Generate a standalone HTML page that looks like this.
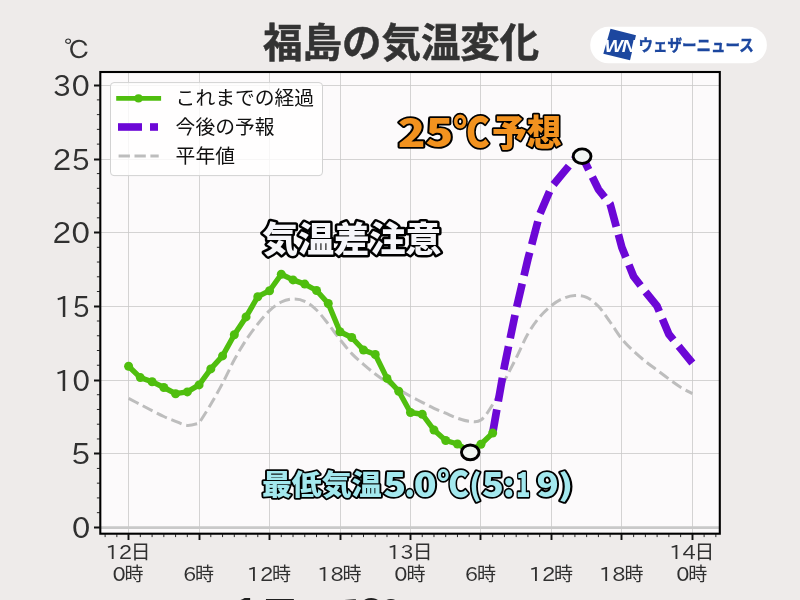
<!DOCTYPE html>
<html lang="ja"><head><meta charset="utf-8"><title>福島の気温変化</title>
<style>html,body{margin:0;padding:0;background:#eeebea;}body{width:800px;height:600px;overflow:hidden;}svg{display:block;will-change:transform;}</style>
</head><body>
<svg width="800" height="600" viewBox="0 0 800 600">
<rect x="0" y="0" width="800" height="600" fill="#eeebea"/>
<rect x="100.3" y="72.0" width="619.50" height="461.70" fill="#fcfafb"/>
<path d="M128.50,72.0 V533.7 M199.50,72.0 V533.7 M269.50,72.0 V533.7 M340.50,72.0 V533.7 M410.50,72.0 V533.7 M480.50,72.0 V533.7 M551.50,72.0 V533.7 M621.50,72.0 V533.7 M692.50,72.0 V533.7 M100.3,527.50 H719.8 M100.3,453.50 H719.8 M100.3,380.50 H719.8 M100.3,306.50 H719.8 M100.3,232.50 H719.8 M100.3,159.50 H719.8 M100.3,85.50 H719.8" stroke="#c9c9c9" stroke-width="0.8" fill="none"/>
<path d="M100.3,527.60 H719.8" stroke="#c9c9c9" stroke-width="2.6" fill="none"/>
<clipPath id="cp"><rect x="100.3" y="72.0" width="619.50" height="461.70"/></clipPath>
<g clip-path="url(#cp)">
<path d="M128.60,398.40 C130.56,399.42 136.43,402.45 140.34,404.50 C144.26,406.55 148.18,408.70 152.09,410.70 C156.00,412.70 159.92,414.73 163.83,416.50 C167.75,418.27 171.66,419.82 175.58,421.30 C179.49,422.78 183.41,425.08 187.32,425.40 C191.24,425.72 197.11,423.57 199.07,423.20 C201.03,420.05 206.90,410.95 210.81,404.30 C214.73,397.65 218.65,390.72 222.56,383.30 C226.47,375.88 230.39,367.02 234.31,359.80 C238.22,352.58 242.13,345.97 246.05,340.00 C249.96,334.03 253.88,328.90 257.79,324.00 C261.71,319.10 265.62,314.27 269.54,310.60 C273.45,306.93 277.37,303.93 281.28,302.00 C285.20,300.07 289.11,299.12 293.03,299.00 C296.94,298.88 300.86,299.47 304.77,301.30 C308.69,303.13 312.60,306.22 316.52,310.00 C320.44,313.78 324.35,319.08 328.26,324.00 C332.18,328.92 336.09,334.57 340.01,339.50 C343.93,344.43 347.84,349.47 351.75,353.60 C355.67,357.73 359.58,360.90 363.50,364.30 C367.42,367.70 371.33,371.00 375.25,374.00 C379.16,377.00 383.07,379.72 386.99,382.30 C390.91,384.88 394.82,387.17 398.74,389.50 C402.65,391.83 406.56,394.17 410.48,396.30 C414.40,398.43 418.31,400.30 422.23,402.30 C426.14,404.30 430.06,406.48 433.97,408.30 C437.88,410.12 441.80,411.55 445.71,413.20 C449.63,414.85 453.54,416.87 457.46,418.20 C461.37,419.53 465.29,420.90 469.20,421.20 C473.12,421.50 477.03,422.78 480.95,420.00 C484.86,417.22 488.78,411.00 492.69,404.50 C496.61,398.00 500.52,388.75 504.44,381.00 C508.35,373.25 512.27,365.87 516.18,358.00 C520.10,350.13 524.01,340.63 527.93,333.80 C531.84,326.97 535.76,321.70 539.67,317.00 C543.59,312.30 547.50,308.70 551.42,305.60 C555.33,302.50 559.25,300.08 563.16,298.40 C567.08,296.72 571.00,295.68 574.91,295.50 C578.82,295.32 582.74,295.50 586.65,297.30 C590.57,299.10 594.49,302.18 598.40,306.30 C602.31,310.42 606.23,316.55 610.14,322.00 C614.06,327.45 617.98,334.13 621.89,339.00 C625.80,343.87 629.72,347.47 633.63,351.20 C637.55,354.93 641.47,358.23 645.38,361.40 C649.29,364.57 653.21,367.27 657.12,370.20 C661.04,373.13 664.96,376.17 668.87,379.00 C672.78,381.83 676.70,384.77 680.62,387.20 C684.53,389.63 690.40,392.53 692.36,393.60" stroke="#bdbdbd" stroke-width="3" stroke-dasharray="11.1 4.8" fill="none" stroke-linejoin="round"/>
<path d="M492.69,433.00 L504.44,366.30 L516.18,309.30 L527.93,259.00 L539.67,214.50 L551.42,187.10 L563.16,172.90 L574.91,158.80 L582.10,156.25 L598.40,189.30 L610.14,204.00 L621.89,247.50 L633.63,276.50 L645.38,291.70 L657.12,306.20 L668.87,334.30 L680.62,348.60 L692.36,363.00" stroke="#6c07d6" stroke-width="7.7" stroke-dasharray="23.9 8.2" fill="none" stroke-linejoin="round"/>
<path d="M128.60,366.30 L140.34,377.60 L152.09,381.70 L163.83,387.50 L175.58,393.70 L187.32,391.90 L199.07,384.90 L210.81,368.90 L222.56,355.90 L234.31,334.80 L246.05,316.90 L257.79,296.70 L269.54,290.70 L281.28,274.30 L293.03,279.90 L304.77,284.10 L316.52,290.50 L328.26,303.50 L340.01,331.75 L351.75,337.50 L363.50,350.00 L375.25,354.50 L386.99,378.40 L398.74,391.25 L410.48,412.50 L422.23,414.25 L433.97,430.00 L445.71,440.50 L457.46,444.00 L469.20,451.00 L480.95,444.30 L492.69,433.00" stroke="#4fbe0e" stroke-width="5.4" fill="none" stroke-linejoin="round" stroke-linecap="round"/>
<circle cx="128.60" cy="366.30" r="4.5" fill="#4fbe0e"/>
<circle cx="140.34" cy="377.60" r="4.5" fill="#4fbe0e"/>
<circle cx="152.09" cy="381.70" r="4.5" fill="#4fbe0e"/>
<circle cx="163.83" cy="387.50" r="4.5" fill="#4fbe0e"/>
<circle cx="175.58" cy="393.70" r="4.5" fill="#4fbe0e"/>
<circle cx="187.32" cy="391.90" r="4.5" fill="#4fbe0e"/>
<circle cx="199.07" cy="384.90" r="4.5" fill="#4fbe0e"/>
<circle cx="210.81" cy="368.90" r="4.5" fill="#4fbe0e"/>
<circle cx="222.56" cy="355.90" r="4.5" fill="#4fbe0e"/>
<circle cx="234.31" cy="334.80" r="4.5" fill="#4fbe0e"/>
<circle cx="246.05" cy="316.90" r="4.5" fill="#4fbe0e"/>
<circle cx="257.79" cy="296.70" r="4.5" fill="#4fbe0e"/>
<circle cx="269.54" cy="290.70" r="4.5" fill="#4fbe0e"/>
<circle cx="281.28" cy="274.30" r="4.5" fill="#4fbe0e"/>
<circle cx="293.03" cy="279.90" r="4.5" fill="#4fbe0e"/>
<circle cx="304.77" cy="284.10" r="4.5" fill="#4fbe0e"/>
<circle cx="316.52" cy="290.50" r="4.5" fill="#4fbe0e"/>
<circle cx="328.26" cy="303.50" r="4.5" fill="#4fbe0e"/>
<circle cx="340.01" cy="331.75" r="4.5" fill="#4fbe0e"/>
<circle cx="351.75" cy="337.50" r="4.5" fill="#4fbe0e"/>
<circle cx="363.50" cy="350.00" r="4.5" fill="#4fbe0e"/>
<circle cx="375.25" cy="354.50" r="4.5" fill="#4fbe0e"/>
<circle cx="386.99" cy="378.40" r="4.5" fill="#4fbe0e"/>
<circle cx="398.74" cy="391.25" r="4.5" fill="#4fbe0e"/>
<circle cx="410.48" cy="412.50" r="4.5" fill="#4fbe0e"/>
<circle cx="422.23" cy="414.25" r="4.5" fill="#4fbe0e"/>
<circle cx="433.97" cy="430.00" r="4.5" fill="#4fbe0e"/>
<circle cx="445.71" cy="440.50" r="4.5" fill="#4fbe0e"/>
<circle cx="457.46" cy="444.00" r="4.5" fill="#4fbe0e"/>
<circle cx="469.20" cy="451.00" r="4.5" fill="#4fbe0e"/>
<circle cx="480.95" cy="444.30" r="4.5" fill="#4fbe0e"/>
<circle cx="492.69" cy="433.00" r="4.5" fill="#4fbe0e"/>
</g>
<rect x="100.3" y="72.0" width="619.50" height="461.70" fill="none" stroke="#000" stroke-width="2.1"/>
<path d="M128.50,533.7 v6.3 M199.50,533.7 v6.3 M269.50,533.7 v6.3 M340.50,533.7 v6.3 M410.50,533.7 v6.3 M480.50,533.7 v6.3 M551.50,533.7 v6.3 M621.50,533.7 v6.3 M692.50,533.7 v6.3 M100.3,527.50 h-6.3 M100.3,453.50 h-6.3 M100.3,380.50 h-6.3 M100.3,306.50 h-6.3 M100.3,232.50 h-6.3 M100.3,159.50 h-6.3 M100.3,85.50 h-6.3" stroke="#111" stroke-width="1.9" fill="none"/>
<path d="M105.11,533.7 v3.4 M116.85,533.7 v3.4 M140.34,533.7 v3.4 M152.09,533.7 v3.4 M163.83,533.7 v3.4 M175.58,533.7 v3.4 M187.32,533.7 v3.4 M210.81,533.7 v3.4 M222.56,533.7 v3.4 M234.31,533.7 v3.4 M246.05,533.7 v3.4 M257.79,533.7 v3.4 M281.28,533.7 v3.4 M293.03,533.7 v3.4 M304.77,533.7 v3.4 M316.52,533.7 v3.4 M328.26,533.7 v3.4 M351.75,533.7 v3.4 M363.50,533.7 v3.4 M375.25,533.7 v3.4 M386.99,533.7 v3.4 M398.74,533.7 v3.4 M422.23,533.7 v3.4 M433.97,533.7 v3.4 M445.71,533.7 v3.4 M457.46,533.7 v3.4 M469.20,533.7 v3.4 M492.69,533.7 v3.4 M504.44,533.7 v3.4 M516.18,533.7 v3.4 M527.93,533.7 v3.4 M539.67,533.7 v3.4 M563.16,533.7 v3.4 M574.91,533.7 v3.4 M586.65,533.7 v3.4 M598.40,533.7 v3.4 M610.14,533.7 v3.4 M633.63,533.7 v3.4 M645.38,533.7 v3.4 M657.12,533.7 v3.4 M668.87,533.7 v3.4 M680.62,533.7 v3.4 M704.11,533.7 v3.4 M715.85,533.7 v3.4 M100.3,512.66 h-3.4 M100.3,497.92 h-3.4 M100.3,483.17 h-3.4 M100.3,468.43 h-3.4 M100.3,438.95 h-3.4 M100.3,424.21 h-3.4 M100.3,409.46 h-3.4 M100.3,394.72 h-3.4 M100.3,365.24 h-3.4 M100.3,350.50 h-3.4 M100.3,335.75 h-3.4 M100.3,321.01 h-3.4 M100.3,291.53 h-3.4 M100.3,276.79 h-3.4 M100.3,262.04 h-3.4 M100.3,247.30 h-3.4 M100.3,217.82 h-3.4 M100.3,203.08 h-3.4 M100.3,188.33 h-3.4 M100.3,173.59 h-3.4 M100.3,144.11 h-3.4 M100.3,129.37 h-3.4 M100.3,114.62 h-3.4 M100.3,99.88 h-3.4" stroke="#111" stroke-width="0.9" fill="none"/>
<g font-family="IPAPGothic, 'DejaVu Sans', 'Liberation Sans', sans-serif" font-size="29.1" fill="#303030">
<text transform="translate(71.64,538.10) scale(1.0211,1.0)">0</text>
<text transform="translate(70.85,464.10) scale(1.0745,1.0)">5</text>
<text transform="translate(54.24,391.10) scale(0.9778,1.0)">10</text>
<text transform="translate(54.58,317.10) scale(0.9647,1.0)">15</text>
<text transform="translate(52.30,243.10) scale(1.0332,1.0)">20</text>
<text transform="translate(52.62,170.10) scale(1.0210,1.0)">25</text>
<text transform="translate(53.08,96.10) scale(1.0080,1.0)">30</text>
</g>
<g fill="#303030">
<text><tspan x="105.43" y="558.7" font-family="IPAPGothic, 'DejaVu Sans', 'Liberation Sans', sans-serif" font-size="19.5" textLength="26.53" lengthAdjust="spacingAndGlyphs">12</tspan><tspan x="130.77" y="558.60" font-family="'Liberation Sans', 'Noto Sans CJK JP', sans-serif" font-size="19.8">日</tspan></text>
<text><tspan x="112.47" y="580.6" font-family="IPAPGothic, 'DejaVu Sans', 'Liberation Sans', sans-serif" font-size="19.5" textLength="13.27" lengthAdjust="spacingAndGlyphs">0</tspan><tspan x="124.53" y="580.80" font-family="'Liberation Sans', 'Noto Sans CJK JP', sans-serif" font-size="19.0">時</tspan></text>
<text><tspan x="182.94" y="580.6" font-family="IPAPGothic, 'DejaVu Sans', 'Liberation Sans', sans-serif" font-size="19.5" textLength="13.27" lengthAdjust="spacingAndGlyphs">6</tspan><tspan x="195.00" y="580.80" font-family="'Liberation Sans', 'Noto Sans CJK JP', sans-serif" font-size="19.0">時</tspan></text>
<text><tspan x="246.77" y="580.6" font-family="IPAPGothic, 'DejaVu Sans', 'Liberation Sans', sans-serif" font-size="19.5" textLength="26.53" lengthAdjust="spacingAndGlyphs">12</tspan><tspan x="272.11" y="580.80" font-family="'Liberation Sans', 'Noto Sans CJK JP', sans-serif" font-size="19.0">時</tspan></text>
<text><tspan x="317.24" y="580.6" font-family="IPAPGothic, 'DejaVu Sans', 'Liberation Sans', sans-serif" font-size="19.5" textLength="26.53" lengthAdjust="spacingAndGlyphs">18</tspan><tspan x="342.58" y="580.80" font-family="'Liberation Sans', 'Noto Sans CJK JP', sans-serif" font-size="19.0">時</tspan></text>
<text><tspan x="387.31" y="558.7" font-family="IPAPGothic, 'DejaVu Sans', 'Liberation Sans', sans-serif" font-size="19.5" textLength="26.53" lengthAdjust="spacingAndGlyphs">13</tspan><tspan x="412.65" y="558.60" font-family="'Liberation Sans', 'Noto Sans CJK JP', sans-serif" font-size="19.8">日</tspan></text>
<text><tspan x="394.35" y="580.6" font-family="IPAPGothic, 'DejaVu Sans', 'Liberation Sans', sans-serif" font-size="19.5" textLength="13.27" lengthAdjust="spacingAndGlyphs">0</tspan><tspan x="406.41" y="580.80" font-family="'Liberation Sans', 'Noto Sans CJK JP', sans-serif" font-size="19.0">時</tspan></text>
<text><tspan x="464.82" y="580.6" font-family="IPAPGothic, 'DejaVu Sans', 'Liberation Sans', sans-serif" font-size="19.5" textLength="13.27" lengthAdjust="spacingAndGlyphs">6</tspan><tspan x="476.88" y="580.80" font-family="'Liberation Sans', 'Noto Sans CJK JP', sans-serif" font-size="19.0">時</tspan></text>
<text><tspan x="528.65" y="580.6" font-family="IPAPGothic, 'DejaVu Sans', 'Liberation Sans', sans-serif" font-size="19.5" textLength="26.53" lengthAdjust="spacingAndGlyphs">12</tspan><tspan x="553.99" y="580.80" font-family="'Liberation Sans', 'Noto Sans CJK JP', sans-serif" font-size="19.0">時</tspan></text>
<text><tspan x="599.12" y="580.6" font-family="IPAPGothic, 'DejaVu Sans', 'Liberation Sans', sans-serif" font-size="19.5" textLength="26.53" lengthAdjust="spacingAndGlyphs">18</tspan><tspan x="624.46" y="580.80" font-family="'Liberation Sans', 'Noto Sans CJK JP', sans-serif" font-size="19.0">時</tspan></text>
<text><tspan x="669.19" y="558.7" font-family="IPAPGothic, 'DejaVu Sans', 'Liberation Sans', sans-serif" font-size="19.5" textLength="26.53" lengthAdjust="spacingAndGlyphs">14</tspan><tspan x="694.53" y="558.60" font-family="'Liberation Sans', 'Noto Sans CJK JP', sans-serif" font-size="19.8">日</tspan></text>
<text><tspan x="676.23" y="580.6" font-family="IPAPGothic, 'DejaVu Sans', 'Liberation Sans', sans-serif" font-size="19.5" textLength="13.27" lengthAdjust="spacingAndGlyphs">0</tspan><tspan x="688.29" y="580.80" font-family="'Liberation Sans', 'Noto Sans CJK JP', sans-serif" font-size="19.0">時</tspan></text>
</g>
<text transform="translate(63.79,58.70) scale(1.0762,1.0)" font-family="IPAGothic, 'Noto Sans CJK JP', sans-serif" font-size="25" fill="#333333">℃</text>
<text transform="translate(263.11,57.20) scale(0.9864,1.0)" font-family="'Liberation Sans', 'Noto Sans CJK JP', sans-serif" font-weight="700" font-size="40" fill="#333333" stroke="#333333" stroke-width="0.5">福島の気温変化</text>
<rect x="110.5" y="82.6" width="212" height="93" rx="3.5" fill="#ffffff" fill-opacity="0.8" stroke="#d2d2d2" stroke-width="1"/>
<path d="M116.2,98.4 H161.1" stroke="#4fbe0e" stroke-width="4.800000000000001"/><circle cx="138.5" cy="98.4" r="4.1" fill="#4fbe0e"/>
<rect x="118" y="123.2" width="24" height="7.6" fill="#6c07d6"/><rect x="150" y="123.2" width="8" height="7.6" fill="#6c07d6"/>
<path d="M118.6,156 H158.7" stroke="#bdbdbd" stroke-width="3" stroke-dasharray="11.3 4.6"/>
<g font-family="'Liberation Sans', 'Noto Sans CJK JP', sans-serif" font-size="19.8" fill="#111">
<text x="175.6" y="105.4">これまでの経過</text>
<text x="175.6" y="134">今後の予報</text>
<text x="175.6" y="163">平年値</text>
</g>
<ellipse cx="470.25" cy="452.35" rx="8.8" ry="7.4" fill="#f1f5f2" stroke="#000" stroke-width="2.9"/>
<ellipse cx="582.1" cy="156.2" rx="8.9" ry="7.3" fill="#f1f5f2" stroke="#000" stroke-width="2.9"/>
<text font-family="'Noto Sans CJK JP', 'Liberation Sans', sans-serif" font-weight="900" fill="#f2921f" stroke="#000" stroke-width="3.6" stroke-linejoin="round" paint-order="stroke fill"><tspan x="397.80" y="146.70" font-size="39" textLength="55.62" lengthAdjust="spacingAndGlyphs">25</tspan><tspan x="453.47" y="146.90" font-size="40.7" textLength="35.89" lengthAdjust="spacingAndGlyphs">℃</tspan><tspan x="492.02" y="146.20" font-size="36.7" textLength="69.50" lengthAdjust="spacingAndGlyphs">予想</tspan></text>
<text font-family="'Noto Sans CJK JP', 'Liberation Sans', sans-serif" font-weight="900" fill="#f6f6fa" stroke="#000" stroke-width="5.0" stroke-linejoin="round" paint-order="stroke fill"><tspan x="262.36" y="252.00" font-size="35.1" textLength="179.04" lengthAdjust="spacingAndGlyphs">気温差注意</tspan></text>
<text font-family="'Noto Sans CJK JP', 'Liberation Sans', sans-serif" font-weight="900" fill="#a3e8ee" stroke="#000" stroke-width="3.6" stroke-linejoin="round" paint-order="stroke fill"><tspan x="261.90" y="494.90" font-size="28.1" textLength="119.77" lengthAdjust="spacingAndGlyphs">最低気温</tspan><tspan x="383.16" y="496.90" font-size="33.6" textLength="22.87" lengthAdjust="spacingAndGlyphs">5</tspan><tspan x="404.52" y="496.90" font-size="33.6" textLength="10.41" lengthAdjust="spacingAndGlyphs">.</tspan><tspan x="413.89" y="496.90" font-size="33.6" textLength="22.92" lengthAdjust="spacingAndGlyphs">0</tspan><tspan x="437.55" y="497.00" font-size="35.4" textLength="31.16" lengthAdjust="spacingAndGlyphs">℃</tspan><tspan x="469.16" y="495.80" font-size="29.6" textLength="12.19" lengthAdjust="spacingAndGlyphs">(</tspan><tspan x="482.10" y="496.90" font-size="33.6" textLength="21.83" lengthAdjust="spacingAndGlyphs">5</tspan><tspan x="502.94" y="496.90" font-size="33.6" textLength="11.56" lengthAdjust="spacingAndGlyphs">:</tspan><tspan x="516.07" y="496.90" font-size="33.6" textLength="14.38" lengthAdjust="spacingAndGlyphs">1</tspan><tspan x="536.52" y="496.90" font-size="33.6" textLength="22.38" lengthAdjust="spacingAndGlyphs">9</tspan><tspan x="558.24" y="495.80" font-size="29.6" textLength="15.01" lengthAdjust="spacingAndGlyphs">)</tspan></text>
<rect x="590.2" y="26.8" width="176.7" height="36.5" rx="18.25" fill="#ffffff"/>
<polygon points="610.5,28.8 636,35.2 630,60.2 603.3,53.8" fill="#1c479f"/>
<text transform="translate(604.4,52.1) scale(1.34,1.08)" font-family="'Liberation Sans', sans-serif" font-weight="700" font-style="italic" font-size="14.5" fill="#fff" letter-spacing="-0.8">WN</text>
<text transform="translate(638.40,51.40) scale(0.9069,1.0)" font-family="'Liberation Sans', 'Noto Sans CJK JP', sans-serif" font-weight="700" font-size="16" fill="#1c479f" stroke="#1c479f" stroke-width="0.4">ウェザーニュース</text>
<text font-family="'Noto Sans CJK JP', 'Liberation Sans', sans-serif" font-weight="900" fill="#1f1f1f"><tspan x="232.5" y="630.2" font-size="42.6">1</tspan><tspan x="260.6" y="629.9" font-size="38.7">日</tspan><tspan x="320.5" y="630.1" font-size="40">で</tspan><tspan x="359.4" y="630.2" font-size="42.0">2</tspan><tspan x="378.6" y="630.2" font-size="40.6">0</tspan><tspan x="404" y="634" font-size="36">℃上昇</tspan></text>
</svg>
</body></html>
